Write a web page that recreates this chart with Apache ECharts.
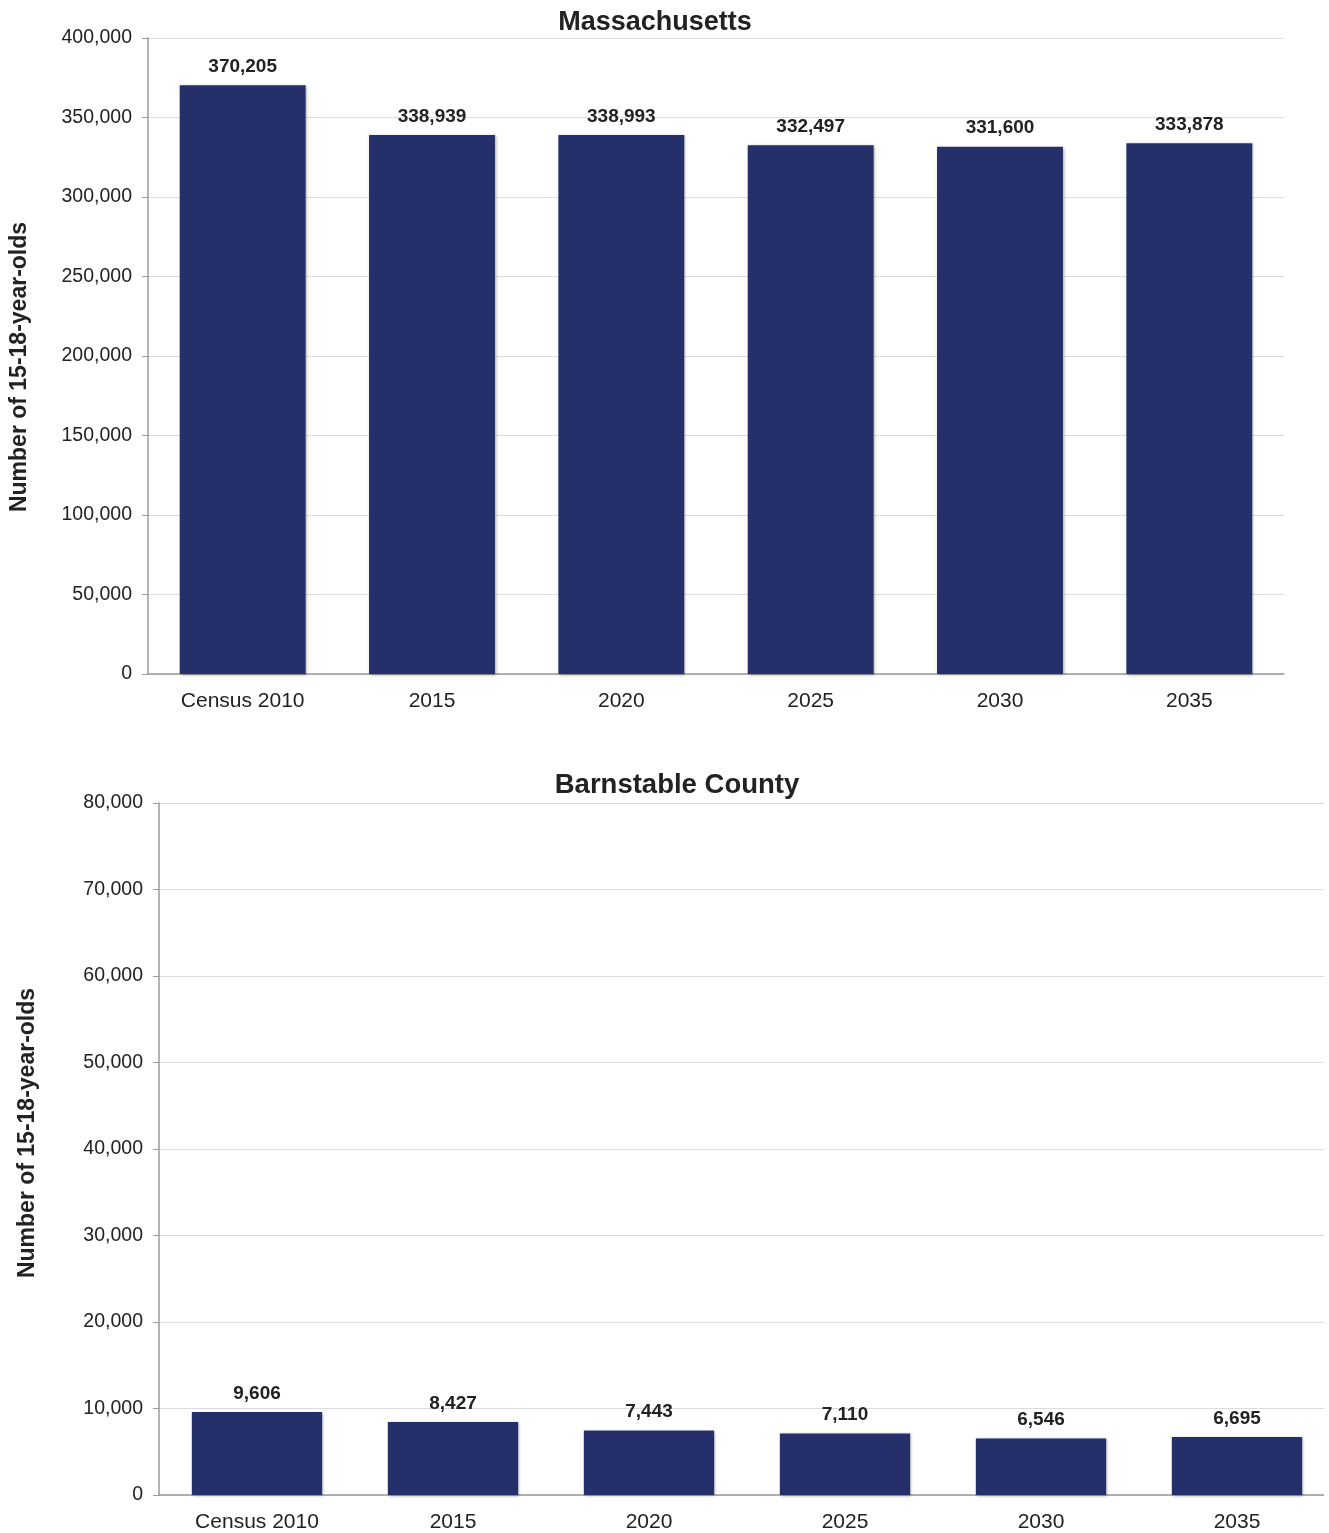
<!DOCTYPE html>
<html>
<head>
<meta charset="utf-8">
<script src="https://cdn.jsdelivr.net/npm/echarts@6/dist/echarts.min.js"></script>
<style>
  html, body { margin: 0; padding: 0; background: #fff; overflow: hidden; }
  #chart { width: 1345px; height: 1533px; }
</style>
</head>
<body>
<div id="chart"></div>
<script>
// Projected number of 15-18-year-olds
const categories = ['Census 2010', '2015', '2020', '2025', '2030', '2035'];
const massValues = [370205, 338939, 338993, 332497, 331600, 333878];
const barnValues = [9606, 8427, 7443, 7110, 6546, 6695];
const panelTitles = ['Massachusetts', 'Barnstable County'];
const yAxisName = 'Number of 15-18-year-olds';

const FONT = '"Liberation Sans", Arial, sans-serif';
const BAR = '#252F6A';
const TEXT = '#222';
const fmt = v => v.toLocaleString('en-US');

const chart = echarts.init(document.getElementById('chart'));

function xAxis(gridIndex) {
  return {
    type: 'category', gridIndex, data: categories,
    axisLine: { lineStyle: { color: '#9a9a9a', width: 1.5 } },
    axisTick: { show: false },
    axisLabel: { color: TEXT, fontFamily: FONT, fontSize: 21, margin: 17 }
  };
}
function yAxis(gridIndex, max, interval) {
  return {
    type: 'value', gridIndex, min: 0, max, interval,
    axisLine: { show: true, lineStyle: { color: '#9a9a9a', width: 1.5 } },
    axisTick: { show: true, length: 6, lineStyle: { color: '#9a9a9a' } },
    axisLabel: { color: TEXT, fontFamily: FONT, fontSize: 19.5, margin: 16, formatter: fmt },
    splitLine: { lineStyle: { color: '#dcdcdc', width: 1 } }
  };
}
function barSeries(idx, data) {
  return {
    type: 'bar', xAxisIndex: idx, yAxisIndex: idx, data,
    barWidth: '66.5%',
    itemStyle: { color: BAR, shadowColor: 'rgba(0,0,0,0.35)', shadowBlur: 3, shadowOffsetX: 1, shadowOffsetY: 1 },
    label: {
      show: true, position: 'top', distance: 9, formatter: p => fmt(p.value),
      fontFamily: FONT, fontSize: 19, fontWeight: 'bold', color: TEXT
    }
  };
}
function axisName(x, y) {
  return {
    type: 'text', x, y, rotation: Math.PI / 2,
    style: {
      text: yAxisName, align: 'center', verticalAlign: 'middle',
      font: 'bold 23px ' + FONT, fill: TEXT
    }
  };
}

chart.setOption({
  animation: false,
  title: [
    { text: panelTitles[0], left: 650, top: 4, textAlign: 'center',
      textStyle: { fontFamily: FONT, fontSize: 27, fontWeight: 'bold', color: TEXT } },
    { text: panelTitles[1], left: 672, top: 766, textAlign: 'center',
      textStyle: { fontFamily: FONT, fontSize: 27.5, fontWeight: 'bold', color: TEXT } }
  ],
  grid: [
    { left: 148, width: 1136, top: 38, height: 636 },
    { left: 159, width: 1176, top: 803, height: 692 }
  ],
  xAxis: [xAxis(0), xAxis(1)],
  yAxis: [yAxis(0, 400000, 50000), yAxis(1, 80000, 10000)],
  series: [barSeries(0, massValues), barSeries(1, barnValues)],
  graphic: [
    axisName(20, 367),
    axisName(28, 1133),
    // trim the lower panel's grid lines at the right margin
    { type: 'rect', z: 100, shape: { x: 1324, y: 795, width: 30, height: 705 }, style: { fill: '#fff' } }
  ]
});
</script>
</body>
</html>
